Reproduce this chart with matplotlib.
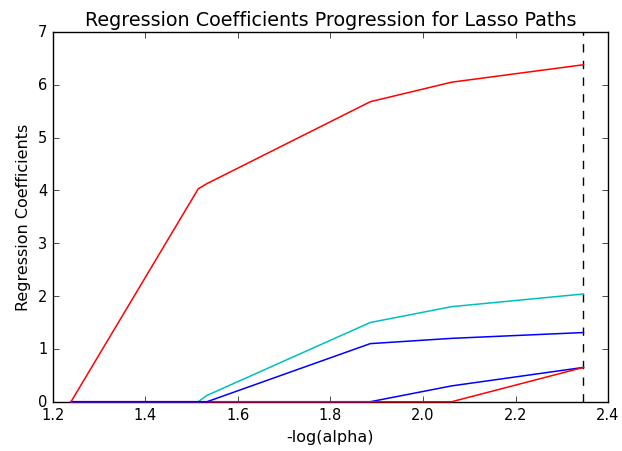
import numpy as np
import matplotlib
matplotlib.use("Agg")
import matplotlib.pyplot as plt

# -log(alpha) breakpoints of the lasso path
neg_log_alpha = [1.239, 1.514, 1.533, 1.886, 2.062, 2.347]

# coefficient paths (draw order matters for the zero segments)
coef_cyan = [0.0, 0.0, 0.12, 1.50, 1.80, 2.04]
coef_blue2 = [0.0, 0.0, 0.0, 0.0, 0.30, 0.65]
coef_red2 = [0.0, 0.0, 0.0, 0.0, 0.0, 0.65]
coef_blue1 = [0.0, 0.0, 0.0, 1.10, 1.20, 1.31]
coef_red1 = [0.0, 4.03, 4.13, 5.68, 6.05, 6.38]

paths = [
    (coef_cyan, "c"),
    (coef_blue2, "b"),
    (coef_red2, "r"),
    (coef_blue1, "b"),
    (coef_red1, "r"),
]

chosen_alpha = neg_log_alpha[-1]

plt.style.use("classic")
fig = plt.figure(figsize=(6.22, 4.52), dpi=100, facecolor="white")
ax = fig.add_axes([0.0852, 0.109, 0.8923, 0.818])

for coefs, color in paths:
    ax.plot(neg_log_alpha, coefs, color=color, linewidth=1.1, clip_on=False, zorder=3)

ax.axvline(chosen_alpha, color="k", linestyle="--", linewidth=1.0)

ax.set_xlim(1.2, 2.4)
ax.set_ylim(0, 7)
ax.set_xticks(np.arange(1.2, 2.41, 0.2))
ax.set_yticks(range(0, 8))
ax.tick_params(labelsize=10.5)
ax.set_xlabel("-log(alpha)", fontsize=11.5)
ax.set_ylabel("Regression Coefficients", fontsize=11.5)
ax.set_title("Regression Coefficients Progression for Lasso Paths", fontsize=13.8)

fig.savefig("out.png", dpi=100, facecolor="white")
